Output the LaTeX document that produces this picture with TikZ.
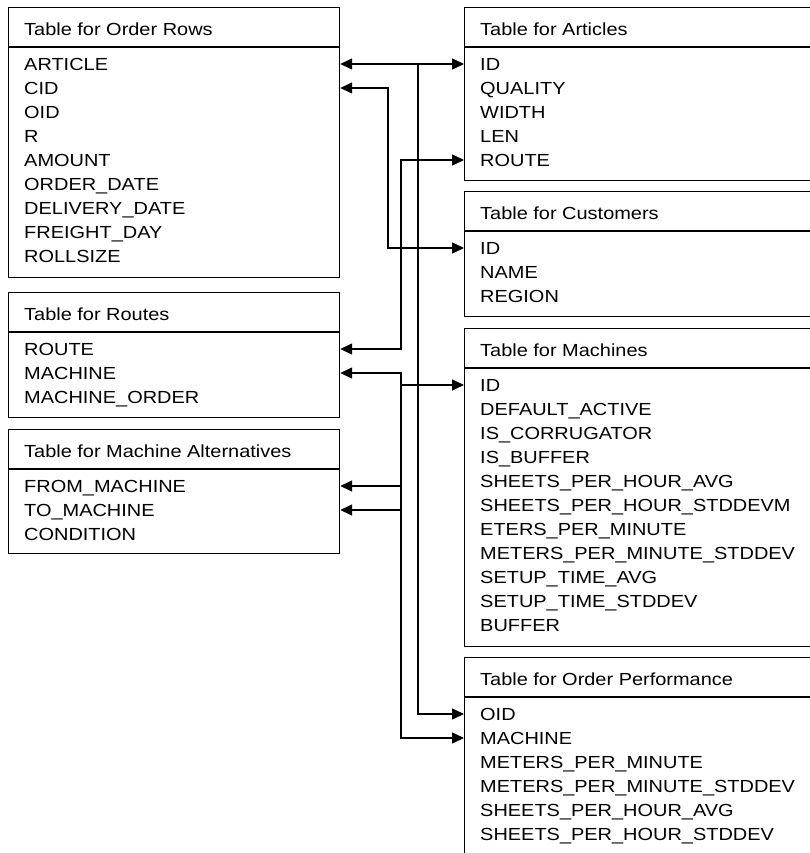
\documentclass[tikz,border=0pt]{standalone}
\usepackage{fontspec}
\setmainfont[FakeStretch=1.14]{Liberation Sans}
\usetikzlibrary{arrows.meta}

\tikzset{
  x=1pt, y=-1pt,
  tbox/.style={draw, line width=1.2pt, rectangle, inner sep=0pt, anchor=north west},
  rule/.style={line width=1.2pt},
  field/.style={anchor=west, inner sep=0pt, text height=12.5pt, text depth=0pt,
    font=\fontsize{17.5pt}{24pt}\selectfont},
  link/.style={line width=1.5pt, >={Triangle[length=12pt,width=11pt]}},
}

% #1 name, #2 left, #3 right, #4 top, #5 bottom, #6 title, #7 field list
\newcommand{\dbtable}[7]{%
  \node[tbox, minimum width={#3-#2}, minimum height={#5-#4}] (#1) at (#2,#4) {};
  \draw[rule] (#2,#4+40) -- (#3,#4+40);
  \node[field] (#1-title) at (#2+16,#4+22) {#6};
  \foreach \fld [count=\i from 0] in {#7} {
    \node[field] (#1-\i) at (#2+16,#4+57+24*\i) {\fld};
  }%
}

\begin{document}
\begin{tikzpicture}
\useasboundingbox (0,0) rectangle (810,853);
\clip (0,0) rectangle (810,853);

% left column of tables
\dbtable{or}{8}{339}{7}{277}{Table for Order Rows}%
  {ARTICLE,CID,OID,R,AMOUNT,ORDER\_DATE,DELIVERY\_DATE,FREIGHT\_DAY,ROLLSIZE}
\dbtable{ro}{8}{339}{292}{417}{Table for Routes}%
  {ROUTE,MACHINE,MACHINE\_ORDER}
\dbtable{alt}{8}{339}{429}{553}{Table for Machine Alternatives}%
  {FROM\_MACHINE,TO\_MACHINE,CONDITION}

% right column of tables
\dbtable{ar}{464}{830}{7}{180}{Table for Articles}%
  {ID,QUALITY,WIDTH,LEN,ROUTE}
\dbtable{cu}{464}{830}{191}{316}{Table for Customers}%
  {ID,NAME,REGION}
\dbtable{ma}{464}{830}{328}{646}{Table for Machines}%
  {ID,DEFAULT\_ACTIVE,IS\_CORRUGATOR,IS\_BUFFER,SHEETS\_PER\_HOUR\_AVG,SHEETS\_PER\_HOUR\_STDDEVM,ETERS\_PER\_MINUTE,METERS\_PER\_MINUTE\_STDDEV,SETUP\_TIME\_AVG,SETUP\_TIME\_STDDEV,BUFFER}
\dbtable{op}{464}{830}{657}{880}{Table for Order Performance}%
  {OID,MACHINE,METERS\_PER\_MINUTE,METERS\_PER\_MINUTE\_STDDEV,SHEETS\_PER\_HOUR\_AVG,SHEETS\_PER\_HOUR\_STDDEV}

% vertical bus lines between the columns
\coordinate (busA) at (388,0);
\coordinate (busB) at (401,0);
\coordinate (busC) at (418,0);

% ARTICLE -> articles ID, and on to order performance OID
\draw[link,<->] (or.east |- or-0) -- (ar.west |- ar-0);
\draw[link,->] (busC |- or-0) -- (busC |- op-0) -- (op.west |- op-0);

% CID -> customers ID
\draw[link,<->] (or.east |- or-1) -- (busA |- or-1) -- (busA |- cu-0) -- (cu.west |- cu-0);

% routes ROUTE -> articles ROUTE
\draw[link,<->] (ro.east |- ro-0) -- (busB |- ro-0) -- (busB |- ar-4) -- (ar.west |- ar-4);

% machine references
\draw[link,<->] (ro.east |- ro-1) -- (busB |- ro-1) -- (busB |- op-1) -- (op.west |- op-1);
\draw[link,->] (busB |- ma-0) -- (ma.west |- ma-0);
\draw[link,<-] (alt.east |- alt-0) -- (busB |- alt-0);
\draw[link,<-] (alt.east |- alt-1) -- (busB |- alt-1);
\end{tikzpicture}
\end{document}
